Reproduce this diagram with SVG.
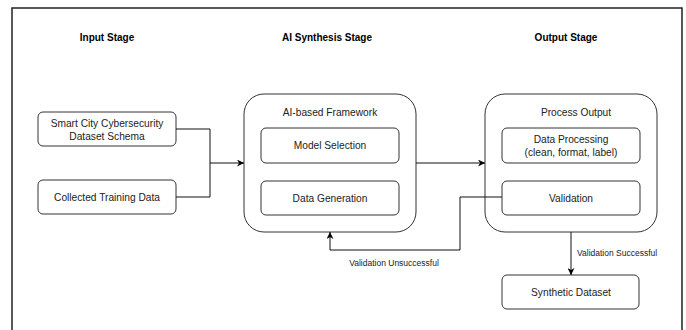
<svg xmlns="http://www.w3.org/2000/svg" width="686" height="330" viewBox="0 0 686 330">
<defs>
<marker id="arr" viewBox="0 0 10 10" refX="10" refY="5" markerWidth="7" markerHeight="7" markerUnits="userSpaceOnUse" orient="auto">
<path d="M0,0 L10,5 L0,10 L3,5 Z" fill="#000"/>
</marker>
</defs>
<style>
.box{fill:#fff;stroke:#333;stroke-width:1}
.t{font-family:"Liberation Sans",Arial,sans-serif;font-size:10.2px;fill:#222;text-anchor:middle}
.h{font-family:"Liberation Sans",Arial,sans-serif;font-size:10px;font-weight:bold;fill:#000;text-anchor:middle}
.s{font-family:"Liberation Sans",Arial,sans-serif;font-size:8.5px;fill:#222}
.c{fill:none;stroke:#111;stroke-width:1}
</style>
<rect width="686" height="330" fill="#fff"/>
<path d="M12,330 V8 H682 V330" fill="none" stroke="#222" stroke-width="1.5"/>
<g id="titles">
<text class="h" x="107" y="41">Input Stage</text>
<text class="h" x="327" y="41">AI Synthesis Stage</text>
<text class="h" x="566" y="41">Output Stage</text>
</g>
<g id="schema">
<rect class="box" x="38" y="112" width="138" height="34" rx="5"/>
<text class="t" x="107" y="127">Smart City Cybersecurity</text>
<text class="t" x="107" y="140">Dataset Schema</text>
</g>
<g id="training">
<rect class="box" x="38" y="180" width="138" height="34" rx="5"/>
<text class="t" x="107" y="201">Collected Training Data</text>
</g>
<g id="framework">
<rect class="box" x="244" y="94" width="172" height="138" rx="20"/>
<text class="t" x="330" y="116">AI-based Framework</text>
</g>
<g id="model">
<rect class="box" x="261" y="128" width="138" height="35" rx="5"/>
<text class="t" x="330" y="149">Model Selection</text>
</g>
<g id="generation">
<rect class="box" x="261" y="181" width="138" height="34" rx="5"/>
<text class="t" x="330" y="202">Data Generation</text>
</g>
<g id="process">
<rect class="box" x="485" y="94" width="172" height="138" rx="20"/>
<text class="t" x="576" y="116">Process Output</text>
</g>
<g id="processing">
<rect class="box" x="502" y="128" width="138" height="35" rx="5"/>
<text class="t" x="571" y="143">Data Processing</text>
<text class="t" x="571" y="156">(clean, format, label)</text>
</g>
<g id="validation">
<rect class="box" x="502" y="181" width="138" height="34" rx="5"/>
<text class="t" x="571" y="202">Validation</text>
</g>
<g id="synthetic">
<rect class="box" x="502" y="275" width="137" height="34" rx="5"/>
<text class="t" x="571" y="296">Synthetic Dataset</text>
</g>
<g id="connectors">
<path class="c" d="M176,129 H210 V197 H176"/>
<path class="c" d="M210,163 H244" marker-end="url(#arr)"/>
<path class="c" d="M416,163 H485" marker-end="url(#arr)"/>
<path class="c" d="M502,197 H460 V250 H330 V232" marker-end="url(#arr)"/>
<text class="s" x="394" y="266" text-anchor="middle">Validation Unsuccessful</text>
<path class="c" d="M571,232 V275" marker-end="url(#arr)"/>
<text class="s" x="577" y="256">Validation Successful</text>
</g>
</svg>
